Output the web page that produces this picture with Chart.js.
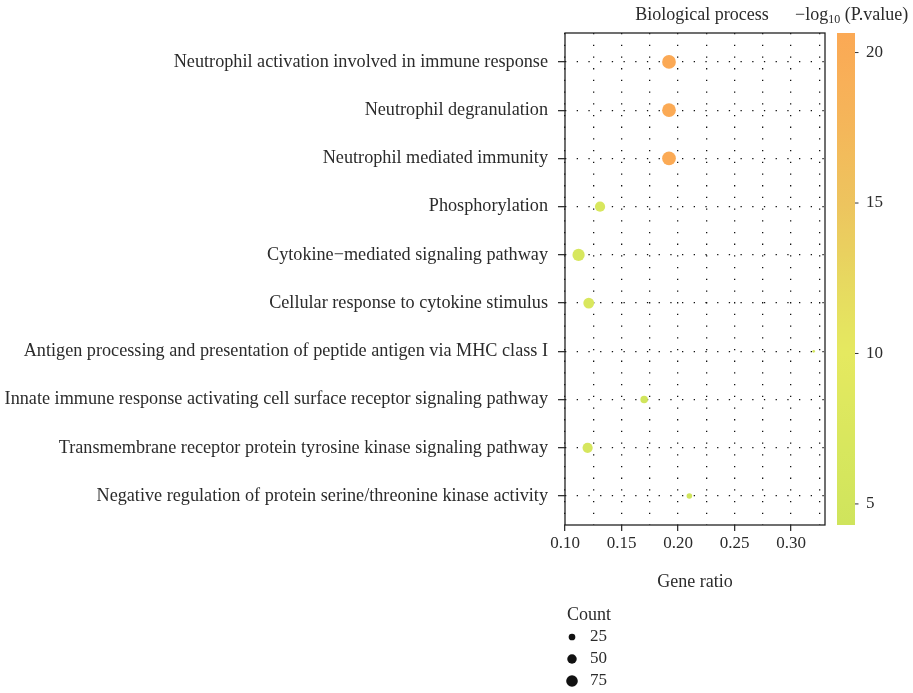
<!DOCTYPE html>
<html>
<head>
<meta charset="utf-8">
<script src="https://cdn.jsdelivr.net/npm/chart.js@4.4.0/dist/chart.umd.min.js"></script>
<style>
  html, body { margin: 0; padding: 0; background: #fff; }
  #wrap { width: 913px; height: 693px; position: relative; }
</style>
</head>
<body>
<div id="wrap"><canvas id="chart"></canvas></div>
<script>
// GO terms, top to bottom
const terms = [
  'Neutrophil activation involved in immune response',
  'Neutrophil degranulation',
  'Neutrophil mediated immunity',
  'Phosphorylation',
  'Cytokine\u2212mediated signaling pathway',
  'Cellular response to cytokine stimulus',
  'Antigen processing and presentation of peptide antigen via MHC class I',
  'Innate immune response activating cell surface receptor signaling pathway',
  'Transmembrane receptor protein tyrosine kinase signaling pathway',
  'Negative regulation of protein serine/threonine kinase activity'
];
const geneRatio = [0.192, 0.192, 0.192, 0.131, 0.112, 0.121, 0.320, 0.170, 0.120, 0.210];
const counts = [105, 105, 105, 58, 83, 65, 4, 31, 58, 17];
const logP = [20.6, 20.5, 20.4, 7.0, 6.6, 7.1, 5.2, 4.8, 6.3, 4.3];

const xTickValues = [0.10, 0.15, 0.20, 0.25, 0.30];
const xGridValues = [0.10, 0.125, 0.15, 0.175, 0.20, 0.225, 0.25, 0.275, 0.30, 0.325];
const colorTicks = [5, 10, 15, 20];
const countLegend = [25, 50, 75];
const colorMin = 4.3;
const colorMax = 20.65;

const SERIF = '"Liberation Serif", "DejaVu Serif", serif';
const TEXT = '#2b2b2b';

// point size from gene count
const radiusOf = (n) => 0.67 * Math.sqrt(n);

// colour ramp for -log10(p)
const rampAt = [0, 0.16, 0.35, 0.47, 0.65, 0.84, 1];
const rampRgb = [
  [207, 228, 92], [216, 231, 94], [229, 233, 96], [230, 220, 96],
  [237, 196, 94], [246, 180, 89], [251, 169, 85]
];
function colorOf(v) {
  const t = Math.min(1, Math.max(0, (v - colorMin) / (colorMax - colorMin)));
  let i = 0;
  while (i < rampAt.length - 2 && t > rampAt[i + 1]) i++;
  const f = (t - rampAt[i]) / (rampAt[i + 1] - rampAt[i]);
  const c = rampRgb[i].map((a, k) => Math.round(a + (rampRgb[i + 1][k] - a) * f));
  return `rgb(${c[0]},${c[1]},${c[2]})`;
}

// panel box, titles, colour bar and size legend
const decorations = {
  id: 'decorations',
  beforeDatasetsDraw(chart) {
    const { ctx, chartArea: a } = chart;
    ctx.save();
    ctx.strokeStyle = '#222';
    ctx.lineWidth = 1.3;
    ctx.strokeRect(a.left, a.top, a.right - a.left, a.bottom - a.top);
    ctx.restore();
  },
  afterDraw(chart) {
    const { ctx, chartArea: a } = chart;
    ctx.save();
    ctx.fillStyle = TEXT;
    ctx.textBaseline = 'middle';

    // titles
    ctx.font = `18px ${SERIF}`;
    ctx.textAlign = 'center';
    ctx.fillText('Biological process', 702, 15);
    ctx.textAlign = 'left';
    let x = 795;
    ctx.fillText('\u2212log', x, 15);
    x += ctx.measureText('\u2212log').width;
    ctx.font = `12px ${SERIF}`;
    ctx.fillText('10', x, 20);
    x += ctx.measureText('10').width;
    ctx.font = `18px ${SERIF}`;
    ctx.fillText(' (P.value)', x, 15);

    // colour bar
    const bx = 837, bw = 18;
    const grad = ctx.createLinearGradient(0, a.bottom, 0, a.top);
    for (let k = 0; k <= 20; k++) {
      grad.addColorStop(k / 20, colorOf(colorMin + (colorMax - colorMin) * k / 20));
    }
    ctx.fillStyle = grad;
    ctx.fillRect(bx, a.top, bw, a.bottom - a.top);
    ctx.fillStyle = TEXT;
    ctx.strokeStyle = '#333';
    ctx.lineWidth = 1;
    ctx.font = `17px ${SERIF}`;
    colorTicks.forEach((v) => {
      const y = a.bottom - (v - colorMin) / (colorMax - colorMin) * (a.bottom - a.top);
      ctx.beginPath();
      ctx.moveTo(bx + bw, y);
      ctx.lineTo(bx + bw + 3.5, y);
      ctx.stroke();
      ctx.fillText(String(v), 866, y);
    });

    // size legend
    ctx.font = `18px ${SERIF}`;
    ctx.fillText('Count', 567, 615);
    ctx.font = `17px ${SERIF}`;
    countLegend.forEach((n, i) => {
      const y = 637 + i * 22;
      ctx.fillStyle = '#111';
      ctx.beginPath();
      ctx.arc(572, y, radiusOf(n), 0, Math.PI * 2);
      ctx.fill();
      ctx.fillStyle = TEXT;
      ctx.fillText(String(n), 590, y);
    });
    ctx.restore();
  }
};

new Chart(document.getElementById('chart'), {
  type: 'scatter',
  data: {
    datasets: [{
      data: terms.map((t, i) => ({ x: geneRatio[i], y: i + 1 })),
      pointRadius: counts.map(radiusOf),
      pointHoverRadius: counts.map(radiusOf),
      pointBackgroundColor: logP.map(colorOf),
      pointBorderWidth: 0
    }]
  },
  options: {
    responsive: true,
    maintainAspectRatio: false,
    animation: false,
    layout: { padding: { left: 0, right: 88, top: 33, bottom: 98 } },
    plugins: { legend: { display: false }, tooltip: { enabled: false } },
    scales: {
      x: {
        type: 'linear',
        min: 0.10,
        max: 0.33,
        afterBuildTicks: (s) => { s.ticks = xGridValues.map((v) => ({ value: v })); },
        afterFit: (s) => { s.height = 70; },
        ticks: {
          autoSkip: false,
          maxRotation: 0,
          padding: 2,
          color: TEXT,
          font: { family: SERIF, size: 17 },
          callback: (v) => (xTickValues.includes(v) ? v.toFixed(2) : '')
        },
        grid: {
          color: '#111',
          lineWidth: 1.3,
          tickLength: 6,
          tickColor: (c) => (c.tick && xTickValues.includes(c.tick.value) ? '#333' : 'rgba(0,0,0,0)')
        },
        border: { display: false, dash: [1.3, 10.4] },
        title: {
          display: true,
          text: 'Gene ratio',
          color: TEXT,
          font: { family: SERIF, size: 18 },
          padding: { top: 0, bottom: 2 }
        }
      },
      y: {
        type: 'linear',
        min: 0.4,
        max: 10.6,
        reverse: true,
        afterBuildTicks: (s) => { s.ticks = terms.map((t, i) => ({ value: i + 1 })); },
        afterFit: (s) => { s.width = 565; },
        ticks: {
          autoSkip: false,
          padding: 10,
          color: TEXT,
          font: { family: SERIF, size: 18.2 },
          callback: (v) => terms[v - 1]
        },
        grid: { color: '#111', lineWidth: 1.3, tickLength: 7, tickColor: '#333' },
        border: { display: false, dash: [1.3, 10.4] }
      }
    }
  },
  plugins: [decorations]
});
</script>
</body>
</html>
